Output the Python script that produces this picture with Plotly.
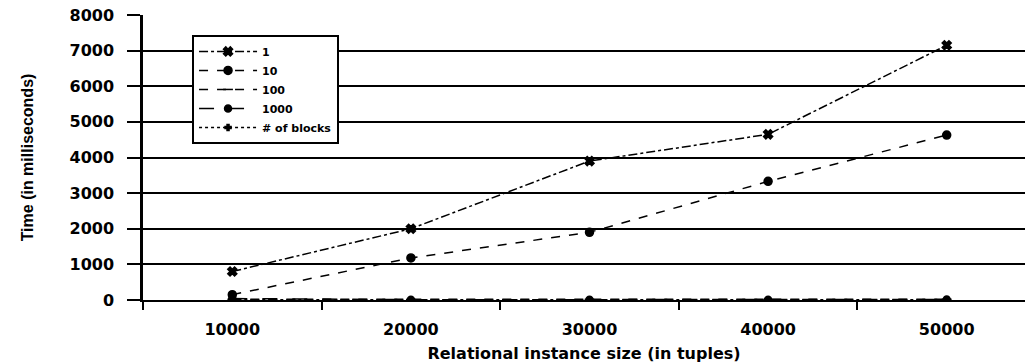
import plotly.graph_objects as go

sizes = [10000, 20000, 30000, 40000, 50000]
size_labels = ["10000", "20000", "30000", "40000", "50000"]
s1 = [800, 2000, 3900, 4650, 7150]
s10 = [150, 1180, 1900, 3330, 4630]
s100 = [20, 15, 15, 15, 20]
s1000 = [40, 10, 10, 10, 15]
s_blocks = [5, 5, 5, 5, 5]
y_ticks = [0, 1000, 2000, 3000, 4000, 5000, 6000, 7000, 8000]

FONT = "DejaVu Sans"

fig = go.Figure()
series = [
    ("1", s1, "dashdot", "x", 8),
    ("10", s10, "dash", "circle", 8),
    ("100", s100, "dash", "line-ew-open", 7),
    ("1000", s1000, "longdash", "circle", 7),
    ("# of blocks", s_blocks, "dot", "cross", 5),
]
for name, vals, dash, sym, ms in series:
    fig.add_trace(go.Scatter(
        x=sizes, y=vals, name=name, mode="lines+markers",
        line=dict(color="black", width=1.5, dash=dash),
        marker=dict(symbol=sym, size=ms, color="black",
                    line=dict(color="black", width=1.5)),
    ))

fig.update_layout(
    width=1025, height=363,
    margin=dict(l=143, r=0, t=15, b=63),
    paper_bgcolor="white", plot_bgcolor="white",
    font=dict(family=FONT, color="black", size=15, weight="bold"),
    legend=dict(
        x=0.0556, y=0.93, xanchor="left", yanchor="top",
        bgcolor="white", bordercolor="black", borderwidth=2,
        font=dict(family=FONT, size=11, color="black", weight="bold"),
        itemwidth=58, tracegroupgap=0,
    ),
    showlegend=True,
)
fig.update_xaxes(
    automargin=False,
    range=[5000, 5000 + 882 / 178.6 * 10000],
    tickvals=sizes, ticktext=size_labels, ticks="",
    tickfont=dict(family=FONT, size=16, weight="bold"),
    ticklabelstandoff=14,
    showgrid=False, zeroline=False,
    showline=True, linecolor="black", linewidth=2,
    minor=dict(tickvals=[5000, 15000, 25000, 35000, 45000], ticks="outside",
               ticklen=8, tickwidth=2, tickcolor="black", showgrid=False),
    title=dict(text="Relational instance size (in tuples)",
               font=dict(family=FONT, size=16, weight="bold"), standoff=12),
)
fig.update_yaxes(
    automargin=False,
    range=[0, 8000], tickvals=y_ticks, ticktext=[str(v) for v in y_ticks],
    ticks="outside", ticklen=13, tickwidth=2, tickcolor="black",
    tickfont=dict(family=FONT, size=16, weight="bold"),
    ticklabelstandoff=10,
    showgrid=True, gridcolor="black", gridwidth=1.5,
    zeroline=True, zerolinecolor="black", zerolinewidth=2,
    showline=True, linecolor="black", linewidth=2.5,
    title=dict(text="Time (in milliseconds)",
               font=dict(family="Liberation Sans", size=16, weight="bold"), standoff=32),
)

fig.write_html("out.html",
               config={"displayModeBar": False},
               post_script="document.body.style.margin='0';document.body.style.overflow='hidden';")
